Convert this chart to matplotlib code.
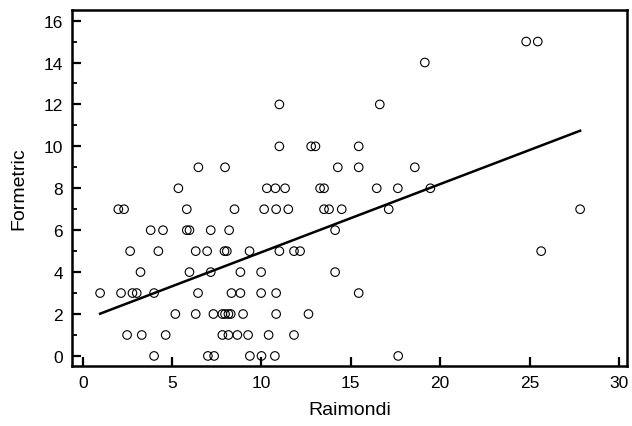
import matplotlib
matplotlib.use("Agg")
import matplotlib.pyplot as plt
from matplotlib.ticker import MultipleLocator
import numpy as np

plt.rcParams['font.family'] = ['Liberation Sans', 'DejaVu Sans']

# Data: Formetric value (row) -> Raimondi values
formetric_0 = [3.99, 7.0, 7.35, 9.35, 10.0, 10.75, 17.65]
formetric_1 = [2.48, 3.30, 4.64, 7.81, 8.15, 8.65, 9.25, 10.4, 11.82]
formetric_2 = [5.18, 6.32, 7.31, 7.81, 7.96, 8.15, 8.28, 8.97, 10.82, 12.63]
formetric_3 = [0.97, 2.14, 2.78, 3.02, 3.99, 6.45, 8.32, 8.82, 9.98, 10.82, 15.44]
formetric_4 = [3.23, 5.97, 7.16, 8.82, 9.98, 14.12]
formetric_5 = [2.65, 4.23, 6.32, 6.96, 7.93, 8.06, 9.33, 11.0, 11.82, 12.16, 25.65]
formetric_6 = [3.80, 4.49, 5.82, 5.97, 7.16, 8.19, 14.12]
formetric_7 = [1.99, 2.31, 5.82, 8.49, 10.15, 10.82, 11.50, 13.50, 13.78, 14.49, 17.12, 27.83]
formetric_8 = [5.35, 10.30, 10.78, 11.32, 13.28, 13.50, 16.45, 17.63, 19.45]
formetric_9 = [6.47, 7.96, 14.27, 15.44, 18.58]
formetric_10 = [11.0, 12.78, 13.02, 15.44]
formetric_12 = [11.0, 16.62]
formetric_14 = [19.14]
formetric_15 = [24.81, 25.46]

rows = {0: formetric_0, 1: formetric_1, 2: formetric_2, 3: formetric_3,
        4: formetric_4, 5: formetric_5, 6: formetric_6, 7: formetric_7,
        8: formetric_8, 9: formetric_9, 10: formetric_10, 12: formetric_12,
        14: formetric_14, 15: formetric_15}

raimondi = np.array([x for k, xs in rows.items() for x in xs])
formetric = np.array([k for k, xs in rows.items() for x in xs], dtype=float)

# Regression line
fit_intercept = 1.70
fit_slope = 0.325

fig = plt.figure(figsize=(6.32, 4.27), dpi=100)
ax = fig.add_axes([0.114, 0.141, 0.878, 0.833])

ax.scatter(raimondi, formetric, s=38, facecolors='none', edgecolors='black',
           linewidths=0.8, zorder=3)

xl = np.array([raimondi.min(), raimondi.max()])
ax.plot(xl, fit_intercept + fit_slope * xl, color='black', lw=1.8, zorder=2)

ax.set_xlim(-0.6, 30.45)
ax.set_ylim(-0.47, 16.5)
ax.xaxis.set_major_locator(MultipleLocator(5))
ax.yaxis.set_major_locator(MultipleLocator(2))
ax.yaxis.set_minor_locator(MultipleLocator(1))

for s in ax.spines.values():
    s.set_linewidth(1.8)

ax.tick_params(which='major', direction='in', length=6.5, width=1.6,
               labelsize=12.5, top=False, right=False, pad=6.5)
ax.tick_params(which='minor', direction='in', length=3.5, width=1.3,
               top=False, right=False)

ax.set_xlabel('Raimondi', fontsize=14, labelpad=8)
ax.set_ylabel('Formetric', fontsize=14, labelpad=12)

fig.savefig('out.png', dpi=100)
